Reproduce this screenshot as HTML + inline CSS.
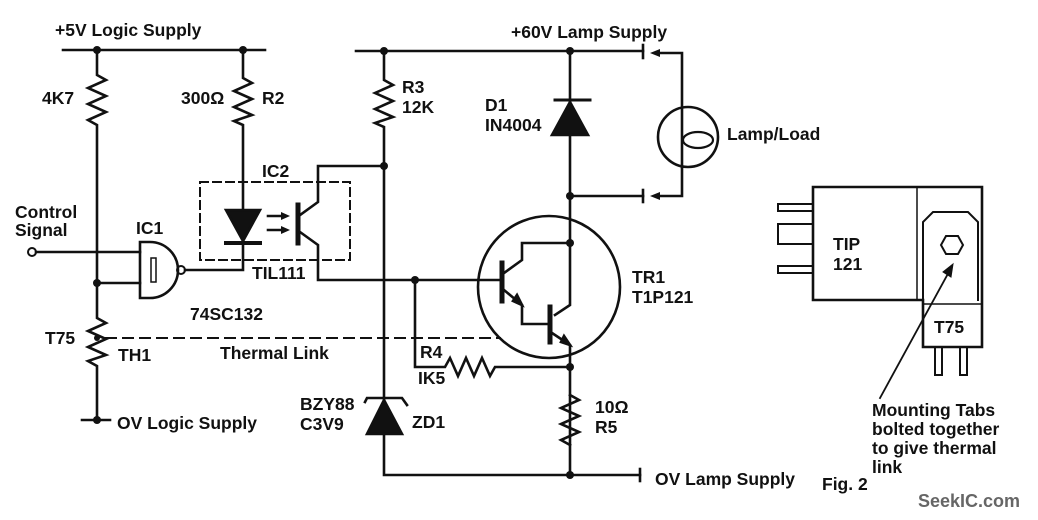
<!DOCTYPE html>
<html><head><meta charset="utf-8"><style>
html,body{margin:0;padding:0;background:#fff;}
svg{display:block}
text{font-family:"Liberation Sans",sans-serif;font-weight:bold;font-size:17.5px;fill:#111}
</style></head><body>
<svg width="1038" height="520" viewBox="0 0 1038 520" xmlns="http://www.w3.org/2000/svg">
<g stroke="#111" stroke-width="2.6" fill="none" stroke-linecap="square">
<line x1="63" y1="50" x2="265" y2="50"/>
<!-- R1 4K7 + TH1 -->
<polyline points="97,50 97,75 106,80 88,88 106,96 88,104 106,112 88,120 97,125 97,318 106,323 88,331 106,339 88,347 106,355 88,361 97,366 97,420"/>
<line x1="82" y1="420" x2="110" y2="420"/>
<circle cx="32" cy="252" r="4" stroke-width="2"/>
<line x1="36" y1="252" x2="140" y2="252"/>
<line x1="97" y1="283" x2="140" y2="283"/>
<path d="M140,242 L150,242 A28,28 0 0 1 150,298 L140,298 Z"/>
<rect x="151" y="258" width="5" height="24" stroke-width="1.5"/>
<circle cx="181" cy="270" r="4" stroke-width="2"/>
<polyline points="185,270 243,270 243,242"/>
<polyline points="243,50 243,78 252,83 234,91 252,99 234,107 252,115 234,121 243,125 243,210"/>
<polygon points="226,210 260,210 243,241" fill="#111"/>
<line x1="226" y1="243" x2="260" y2="243" stroke-width="4"/>
<line x1="268" y1="216" x2="285" y2="216"/><polygon points="290,216 281,212 281,220" fill="#111" stroke="none"/>
<line x1="268" y1="230" x2="285" y2="230"/><polygon points="290,230 281,226 281,234" fill="#111" stroke="none"/>
<line x1="298" y1="205" x2="298" y2="243" stroke-width="5"/>
<polyline points="300,215 318,202 318,166 384,166"/>
<polyline points="300,232 318,245 318,280 500,280"/>
<rect x="200" y="182" width="150" height="78" stroke-width="2" stroke-dasharray="8,5"/>
<line x1="356" y1="51" x2="643" y2="51"/>
<line x1="643" y1="45" x2="643" y2="58"/>
<polyline points="384,51 384,80 393,85 375,93 393,101 375,109 393,117 375,123 384,127 384,475 640,475"/>
<line x1="640" y1="469" x2="640" y2="481"/>
<polygon points="367,434 402,434 384,400" fill="#111"/>
<polyline points="365,402 367,398 402,398 407,405"/>
<line x1="106" y1="338" x2="500" y2="338" stroke-width="2" stroke-dasharray="10,7"/>
<polyline points="415,280 415,367 445,367 450,358 458,376 466,358 474,376 482,358 490,376 495,367 570,367"/>
<polyline points="570,51 570,243"/>
<line x1="555" y1="100" x2="590" y2="100" stroke-width="3"/>
<polygon points="552,135 588,135 570,102" fill="#111"/>
<line x1="570" y1="196" x2="643" y2="196"/>
<line x1="643" y1="190" x2="643" y2="202"/>
<polyline points="657,53 682,53 682,196 657,196"/>
<polygon points="650,53 660,49 660,57" fill="#111" stroke="none"/>
<polygon points="650,196 660,192 660,200" fill="#111" stroke="none"/>
<circle cx="688" cy="137" r="30" fill="#fff"/>
<line x1="682" y1="108" x2="682" y2="167"/>
<ellipse cx="698" cy="140" rx="15" ry="8" stroke-width="2.2"/>
<circle cx="549" cy="287" r="71"/>
<line x1="502" y1="263" x2="502" y2="301" stroke-width="5"/>
<polyline points="504,273 522,260 522,243 570,243 570,305 555,315"/>
<polyline points="504,290 522,305 522,324 548,324"/>
<line x1="550" y1="307" x2="550" y2="342" stroke-width="5"/>
<polyline points="552,333 570,345 570,475"/>
<polygon points="522,305 513,301 517,295" fill="#111"/>
<polygon points="570,345 561,342 564,336" fill="#111"/>
<polyline points="570,395 579,400 561,408 579,416 561,424 579,432 561,440 570,445"/>
<path d="M813,187 L982,187 L982,347 L923,347 L923,300 L813,300 Z"/>
<line x1="917" y1="187" x2="917" y2="300" stroke-width="1.5"/>
<line x1="923" y1="304" x2="982" y2="304" stroke-width="1.5"/>
<path d="M923,300 L923,222 L933,212 L968,212 L978,222 L978,300" stroke-width="2"/>
<polygon points="946,236 958,236 963,245 958,254 946,254 941,245" stroke-width="2"/>
<rect x="778" y="204" width="35" height="7" stroke-width="2"/>
<rect x="778" y="224" width="35" height="20" stroke-width="2"/>
<rect x="778" y="266" width="35" height="7" stroke-width="2"/>
<rect x="935" y="347" width="7" height="28" stroke-width="2"/>
<rect x="960" y="347" width="7" height="28" stroke-width="2"/>
<line x1="880" y1="398" x2="950" y2="270" stroke-width="1.8"/>
<polygon points="953,264 943,272 951,277" fill="#111" stroke-width="1"/>
</g>
<g fill="#111">
<circle cx="97" cy="50" r="4"/><circle cx="243" cy="50" r="4"/>
<circle cx="97" cy="283" r="4"/><circle cx="97" cy="420" r="4"/>
<circle cx="384" cy="51" r="4"/><circle cx="570" cy="51" r="4"/>
<circle cx="384" cy="166" r="4"/><circle cx="415" cy="280" r="4"/>
<circle cx="570" cy="196" r="4"/><circle cx="570" cy="243" r="4"/>
<circle cx="570" cy="367" r="4"/><circle cx="570" cy="475" r="4"/>
<circle cx="97" cy="338" r="3"/>
</g>
<text x="55" y="36">+5V Logic Supply</text>
<text x="42" y="104">4K7</text>
<text x="181" y="104">300Ω</text>
<text x="262" y="104">R2</text>
<text x="402" y="93">R3</text>
<text x="402" y="113">12K</text>
<text x="511" y="38">+60V Lamp Supply</text>
<text x="485" y="111">D1</text>
<text x="485" y="131">IN4004</text>
<text x="727" y="140">Lamp/Load</text>
<text x="262" y="177">IC2</text>
<text x="15" y="218">Control</text>
<text x="15" y="236">Signal</text>
<text x="136" y="234">IC1</text>
<text x="252" y="279">TIL111</text>
<text x="190" y="320">74SC132</text>
<text x="45" y="344">T75</text>
<text x="118" y="361">TH1</text>
<text x="220" y="359">Thermal Link</text>
<text x="117" y="429">OV Logic Supply</text>
<text x="300" y="410">BZY88</text>
<text x="300" y="430">C3V9</text>
<text x="412" y="428">ZD1</text>
<text x="420" y="358">R4</text>
<text x="418" y="384">IK5</text>
<text x="595" y="413">10Ω</text>
<text x="595" y="433">R5</text>
<text x="655" y="485">OV Lamp Supply</text>
<text x="632" y="283">TR1</text>
<text x="632" y="303">T1P121</text>
<text x="833" y="250">TIP</text>
<text x="833" y="270">121</text>
<text x="934" y="333">T75</text>
<text x="872" y="416">Mounting Tabs</text>
<text x="872" y="435">bolted together</text>
<text x="872" y="454">to give thermal</text>
<text x="872" y="473">link</text>
<text x="822" y="490">Fig. 2</text>
<text x="918" y="507" style="fill:#666;font-size:18px">SeekIC.com</text>
</svg>
</body></html>
